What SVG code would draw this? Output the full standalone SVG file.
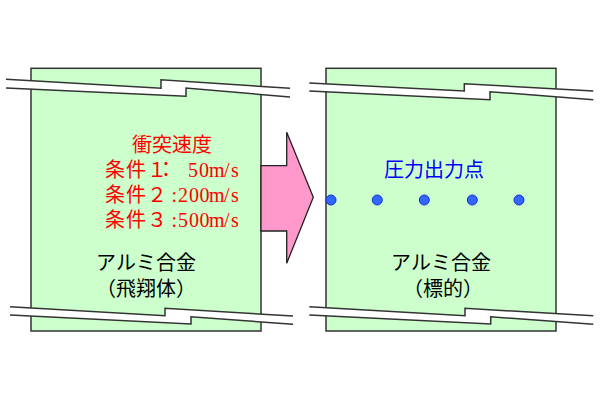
<svg xmlns="http://www.w3.org/2000/svg" width="600" height="400" viewBox="0 0 600 400">
<style>
.body{fill:#CCFFCC;stroke:#333333;stroke-width:1.5}
.band{fill:#FFFFFF;stroke:none}
.bline{fill:none;stroke:#333333;stroke-width:1.5;stroke-linejoin:miter}
.arrow{fill:#FF99CC;stroke:#222222;stroke-width:1.3}
.dot{fill:#3366FF;stroke:#1133CC;stroke-width:1}
.jp{font-family:"Noto Sans CJK JP","Noto Sans",sans-serif;font-size:20px;text-anchor:middle}
.red{font-family:"Liberation Serif","Noto Sans CJK JP",serif;font-size:20px;fill:#FF0000}
.blue{fill:#0000FF}
.black{fill:#000000}
</style>
<rect width="600" height="400" fill="#FFFFFF"/>
<g id="projectile">
<rect class="body" x="31" y="68.3" width="230" height="262.7"/>
<polygon class="band" points="6,79.3 161,88.3 161,79.7 290,88.3 290,97 186,88 186,96.3 6,88"/>
<polyline class="bline" points="6,79.3 161,88.3 161,79.7 290,88.3"/>
<polyline class="bline" points="6,88 186,96.3 186,88 290,97"/>
<polygon class="band" points="10,306.7 165,315.7 165,308.3 293,316 293,324.3 191,316.7 191,324 10,315"/>
<polyline class="bline" points="10,306.7 165,315.7 165,308.3 293,316"/>
<polyline class="bline" points="10,315 191,324 191,316.7 293,324.3"/>
<text class="red" x="172" y="152" text-anchor="middle">衝突速度</text>
<text class="red" x="105 126 147 156 183 188 199 209 224 231" y="177">条件１： 50m/s</text>
<text class="red" x="105 126 147 171.5 178 189 199.5 209 224 231" y="202">条件２:200m/s</text>
<text class="red" x="105 126 147 171.5 178 189 199.5 209 224 231" y="227">条件３:500m/s</text>
<text class="jp black" x="146" y="270">アルミ合金</text>
<text class="jp black" x="146" y="296">（飛翔体）</text>
</g>
<g id="target">
<rect class="body" x="326" y="68.3" width="230" height="262.7"/>
<polygon class="band" points="309.3,83 464.3,91 464.3,83.7 593.3,91 593.3,99.7 490,91.7 490,99.7 309.3,91"/>
<polyline class="bline" points="309.3,83 464.3,91 464.3,83.7 593.3,91"/>
<polyline class="bline" points="309.3,91 490,99.7 490,91.7 593.3,99.7"/>
<polygon class="band" points="309.3,306.7 465,315.7 465,308.3 593.3,315.7 593.3,324.3 490.7,316.7 490.7,324 309.3,315"/>
<polyline class="bline" points="309.3,306.7 465,315.7 465,308.3 593.3,315.7"/>
<polyline class="bline" points="309.3,315 490.7,324 490.7,316.7 593.3,324.3"/>
<text class="jp blue" x="434" y="177">圧力出力点</text>
<text class="jp black" x="441" y="270">アルミ合金</text>
<text class="jp black" x="443" y="296">（標的）</text>
</g>
<g id="pressure-points">
<circle class="dot" cx="331" cy="200" r="5"/>
<circle class="dot" cx="377.3" cy="200" r="5"/>
<circle class="dot" cx="424.3" cy="200" r="5"/>
<circle class="dot" cx="472.3" cy="200" r="5"/>
<circle class="dot" cx="519" cy="200" r="5"/>
</g>
<g id="connectors">
<polygon class="arrow" points="261,165.7 286.7,165.7 286.7,132.3 313.3,197.3 286.7,263.3 286.7,231 261,231"/>
</g>
</svg>
